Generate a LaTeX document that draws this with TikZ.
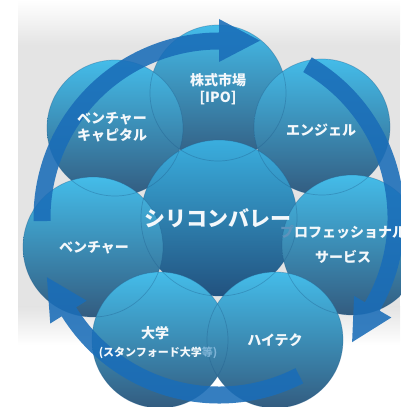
\documentclass[tikz,border=0pt]{standalone}
\usepackage{fontspec}
\newfontfamily\jp{Noto Sans CJK JP}
\usetikzlibrary{calc}
\definecolor{cTop}{HTML}{44BCE9}
\definecolor{cBot}{HTML}{335C80}
\definecolor{mTop}{HTML}{3AAEDE}
\definecolor{mBot}{HTML}{22527F}
\definecolor{bgG}{HTML}{E4E4E4}
\definecolor{arrC}{HTML}{1A6DB8}
\definecolor{txtC}{HTML}{F4F8FB}
\definecolor{edgeC}{HTML}{1E5A8A}
\definecolor{fadeA}{HTML}{5F93BC}
\definecolor{fadeB}{HTML}{7DB3D6}
\newcommand\myarrow[3]{%
  \fill[arrowfill] (#1:185.5) arc[start angle=#1, end angle=#2, radius=185.5]
    -- (#2:199) -- (#3:182) -- (#2:156) -- (#2:168.5)
    arc[start angle=#2, end angle=#1, radius=168.5] -- cycle;}
\tikzset{
  bubble/.style={top color=cTop, bottom color=cBot},
  hub/.style={top color=mTop, bottom color=mBot},
  rim/.style={draw=edgeC, draw opacity=0.35, line width=0.7},
  arrowfill/.style={fill=arrC, fill opacity=0.88},
  lbl/.style={text=txtC, font=\jp\bfseries\fontsize{14}{17}\selectfont, align=center, inner sep=0pt},
  lblbig/.style={text=txtC, font=\jp\bfseries\fontsize{21}{25}\selectfont, inner sep=0pt},
  lblsmall/.style={text=txtC, font=\jp\bfseries\fontsize{11}{13}\selectfont, inner sep=0pt},
}
\begin{document}
\begin{tikzpicture}[x=1pt,y=1pt]
\useasboundingbox (0,0) rectangle (400,407);
% background
\fill[white] (0,0) rectangle (400,407);
\shade[top color=white, bottom color=bgG] (18,362) rectangle (400,407);
\fill[bgG] (18,100) rectangle (400,362);
\shade[top color=bgG, bottom color=white] (18,62) rectangle (400,100);
% circle centres
\coordinate (C)  at (219,189);
\coordinate (pT) at (218,314);
\coordinate (pUR) at (322,280);
\coordinate (pR) at (352,162);
\coordinate (pBR) at (275,67);
\coordinate (pBL) at (160,67);
\coordinate (pL) at (93,160);
\coordinate (pUL) at (115,279);
% circles (lighten blend)
\begin{scope}[blend group=lighten]
  \path[bubble] (pUL) circle[radius=68];
  \path[bubble] (pT) circle[radius=68];
  \path[bubble] (pUR) circle[radius=68];
  \path[bubble] (pR) circle[radius=70];
  \path[bubble] (pL) circle[radius=70];
  \path[bubble] (pBL) circle[radius=68];
  \path[bubble] (pBR) circle[radius=68];
  \path[hub] (C) circle[radius=78];
\end{scope}
% subtle rims
\draw[rim] (pUL) circle[radius=68];
\draw[rim] (pT) circle[radius=68];
\draw[rim] (pUR) circle[radius=68];
\draw[rim] (pR) circle[radius=70];
\draw[rim] (pL) circle[radius=70];
\draw[rim] (pBL) circle[radius=68];
\draw[rim] (pBR) circle[radius=68];
\draw[rim] (C) circle[radius=78];
% arrows
\begin{scope}[shift={(C)}]
  \myarrow{181}{90}{77}
  \myarrow{60}{-30}{-43}
  \myarrow{-63}{-148}{-161}
\end{scope}
% labels
\node[lbl] (tT) at (218,318) {株式市場\\{[IPO]}};
\node[lbl] (tUL) at (112,280) {ベンチャー\\キャピタル};
\node[lbl] (tUR) at (321,277) {エンジェル};
\node[lblbig] (tC) at (218,189) {シリコンバレー};
\node[lbl, anchor=west] (tR1) at (280,175) {\textcolor{fadeA}{プ}ロフェッショナル};
\node[lbl] (tR2) at (343,150) {サービス};
\node[lbl] (tL) at (94,159) {ベンチャー};
\node[lbl] (tBL1) at (155,74) {大学};
\node[lblsmall] (tBL2) at (158,54) {(スタンフォード大学\textcolor{fadeB}{等)}};
\node[lbl] (tBR) at (275,67) {ハイテク};
\end{tikzpicture}
\end{document}
